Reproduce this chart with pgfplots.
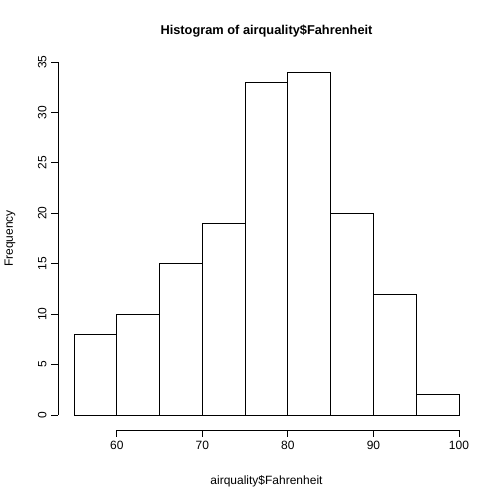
\documentclass[border=0pt]{standalone}
\usepackage{pgfplots}
\pgfplotsset{compat=1.18}
\usepackage{fontspec}
\setmainfont{Liberation Sans}
\begin{document}
\begin{tikzpicture}
\path[use as bounding box] (0,0) rectangle (378pt,378pt);
\begin{axis}[at={(55.5pt,66.75pt)},anchor=south west,scale only axis,
 width=288.75pt,height=264.75pt,xmin=55,xmax=100,ymin=0,ymax=35,
 axis lines=none,clip=false]
\addplot[ybar interval,draw=black,fill=white,line width=0.6pt] coordinates {
(55,8)(60,10)(65,15)(70,19)(75,33)(80,34)(85,20)(90,12)(95,2)(100,2)};
\draw[line width=0.6pt] ([yshift=-11.25pt]axis cs:60,0) -- ([yshift=-11.25pt]axis cs:100,0);
\pgfplotsinvokeforeach{60,70,80,90,100}{
 \draw[line width=0.6pt] ([yshift=-11.25pt]axis cs:#1,0) -- ([yshift=-16.5pt]axis cs:#1,0)
  node[below,font=\fontsize{9}{10}\selectfont,inner sep=3pt] {#1};}
\draw[line width=0.6pt] ([xshift=-12pt]axis cs:55,0) -- ([xshift=-12pt]axis cs:55,35);
\pgfplotsinvokeforeach{0,5,10,15,20,25,30,35}{
 \draw[line width=0.6pt] ([xshift=-12pt]axis cs:55,#1) -- ([xshift=-17.25pt]axis cs:55,#1)
  node[rotate=90,anchor=south,font=\fontsize{9}{10}\selectfont,inner sep=3pt] {#1};}
\node[font=\bfseries\fontsize{9.6}{11}\selectfont,yshift=23pt] at (axis cs:77.5,35) {Histogram of airquality\$Fahrenheit};
\node[font=\fontsize{9}{10}\selectfont,yshift=-50pt] at (axis cs:77.5,0) {airquality\$Fahrenheit};
\node[rotate=90,font=\fontsize{9}{10}\selectfont,xshift=0pt] at ([xshift=-48pt]axis cs:55,17.5) {Frequency};
\end{axis}
\end{tikzpicture}
\end{document}
